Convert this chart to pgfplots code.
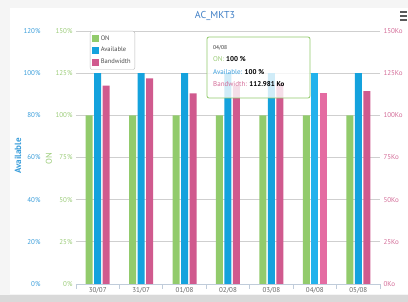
\documentclass[border=0pt]{standalone}
\usepackage{pgfplots}
\pgfplotsset{compat=1.18}
\usepackage{fontspec}
\setmainfont{PT Sans}
\definecolor{ongreen}{HTML}{92CB6C}
\definecolor{avblue}{HTML}{14A2DD}
\definecolor{avbluehi}{HTML}{22B2EC}
\definecolor{bwpink}{HTML}{D05A8E}
\definecolor{bwpinkhi}{HTML}{E46CA2}
\definecolor{ongreentxt}{HTML}{9BCC78}
\definecolor{avbluetxt}{HTML}{3A9EDB}
\definecolor{bwpinktxt}{HTML}{D46C98}
\definecolor{titleblue}{HTML}{3F7FC6}
\definecolor{gridgray}{HTML}{CFCFCF}
\definecolor{xaxiscol}{HTML}{C0CCDA}
\begin{document}
\begin{tikzpicture}[x=1pt,y=1pt]
\fill[gray!8] (0,0) rectangle (408,302);
\fill[gray!30] (0,0) rectangle (408,7);
\fill[white] (10,8) rectangle (408,294);
\path[use as bounding box] (0,0) rectangle (408,302);
\pgfplotsset{myaxis/.style={at={(76pt,18pt)}, anchor=south west, scale only axis,
  width=304pt, height=253pt, xmin=-0.5, xmax=6.5, major tick length=0pt,
  ticklabel style={font=\fontsize{7}{8}\selectfont}}}
% ON axis (green, left inner)
\begin{axis}[myaxis, ymin=0, ymax=150, ytick={0,25,...,150},
  yticklabels={0\%,25\%,50\%,75\%,100\%,125\%,150\%},
  yticklabel style={text=ongreentxt},
  ymajorgrids, grid style={gridgray, line width=0.8pt},
  axis y line*=left, y axis line style={draw=none},
  axis x line*=bottom, x axis line style={xaxiscol, line width=0.8pt},
  xtick={0,...,6}, xticklabels={30/07,31/07,01/08,02/08,03/08,04/08,05/08},
  xticklabel style={text=black!60},
  minor xtick={-0.5,0.5,...,6.5}, minor tick length=5pt, tick align=outside,
  minor tick style={xaxiscol, line width=0.8pt}]
\addplot[ybar, bar width=7pt, bar shift=-8.5pt, fill=ongreen, draw=none, forget plot]
  coordinates {(0,100) (1,100) (2,100) (3,100) (4,100) (5,100) (6,100)};
\end{axis}
% Available axis (blue, left outer)
\begin{axis}[myaxis, ymin=0, ymax=120, ytick={0,20,...,120},
  yticklabels={0\%,20\%,40\%,60\%,80\%,100\%,120\%},
  yticklabel style={text=avbluetxt, xshift=-32pt},
  axis y line*=left, y axis line style={draw=none}, hide x axis]
\addplot[ybar, bar width=7pt, bar shift=0pt, fill=avblue, draw=none, forget plot]
  coordinates {(0,100) (1,100) (2,100) (3,100) (4,100) (6,100)};
\addplot[ybar, bar width=7pt, bar shift=0pt, fill=avbluehi, draw=none, forget plot]
  coordinates {(5,100)};
\end{axis}
% Bandwidth axis (pink, right)
\begin{axis}[myaxis, ymin=0, ymax=150, ytick={0,25,...,150},
  yticklabels={0Ko,25Ko,50Ko,75Ko,100Ko,125Ko,150Ko},
  yticklabel style={text=bwpinktxt},
  axis y line*=right, y axis line style={draw=none}, hide x axis,
  legend style={at={(axis description cs:0.046,1)}, anchor=north west,
    draw=gray!55, fill=white, rounded corners=2pt,
    font=\fontsize{6.5}{7.5}\selectfont, text=black!70, row sep=1.8pt,
    inner sep=2.2pt, cells={anchor=west}},
  legend cell align=left]
\addplot[ybar, bar width=7pt, bar shift=8.5pt, fill=bwpink, draw=none, forget plot]
  coordinates {(0,117.6) (1,121.9) (2,113.0) (3,117.5) (4,119.0) (6,114.3)};
\addplot[ybar, bar width=7pt, bar shift=8.5pt, fill=bwpinkhi, draw=none, forget plot]
  coordinates {(5,112.981)};
\addlegendimage{legend image code/.code={\fill[ongreen, sharp corners] (0pt,-3pt) rectangle (6pt,3pt);}}
\addlegendentry{ON}
\addlegendimage{legend image code/.code={\fill[avblue, sharp corners] (0pt,-3pt) rectangle (6pt,3pt);}}
\addlegendentry{Available}
\addlegendimage{legend image code/.code={\fill[bwpink, sharp corners] (0pt,-3pt) rectangle (6pt,3pt);}}
\addlegendentry{Bandwidth}
\end{axis}
% axis titles
\node[rotate=90, text=avbluetxt, font=\bfseries\fontsize{9}{10}\selectfont] at (18,146) {Available};
\node[rotate=90, text=ongreentxt, font=\fontsize{8.5}{9}\selectfont] at (49,143) {ON};
% chart title
\node[text=titleblue, font=\fontsize{10}{12}\selectfont] at (215,286) {AC\_MKT3};
% menu icon
\foreach \yy in {282,286,290} \draw[black!65, line width=1.5pt] (400,\yy) -- (407,\yy);
% tooltip
\draw[draw=ongreen, line width=0.8pt, fill=white, fill opacity=0.8, rounded corners=2pt] (207,204) rectangle (310,265);
\node[anchor=base west, inner sep=0pt, font=\fontsize{5.5}{6}\selectfont, text=black!80] at (213,252) {04/08};
\node[anchor=base west, inner sep=0pt, font=\fontsize{7}{8}\selectfont] at (213,240) {\textcolor{ongreentxt}{ON:} \textbf{100 \%}};
\node[anchor=base west, inner sep=0pt, font=\fontsize{7}{8}\selectfont] at (213,227) {\textcolor{avbluetxt}{Available:} \textbf{100 \%}};
\node[anchor=base west, inner sep=0pt, font=\fontsize{7}{8}\selectfont] at (213,215) {\textcolor{bwpinktxt}{Bandwidth:} \textbf{112.981 Ko}};
\end{tikzpicture}
\end{document}
